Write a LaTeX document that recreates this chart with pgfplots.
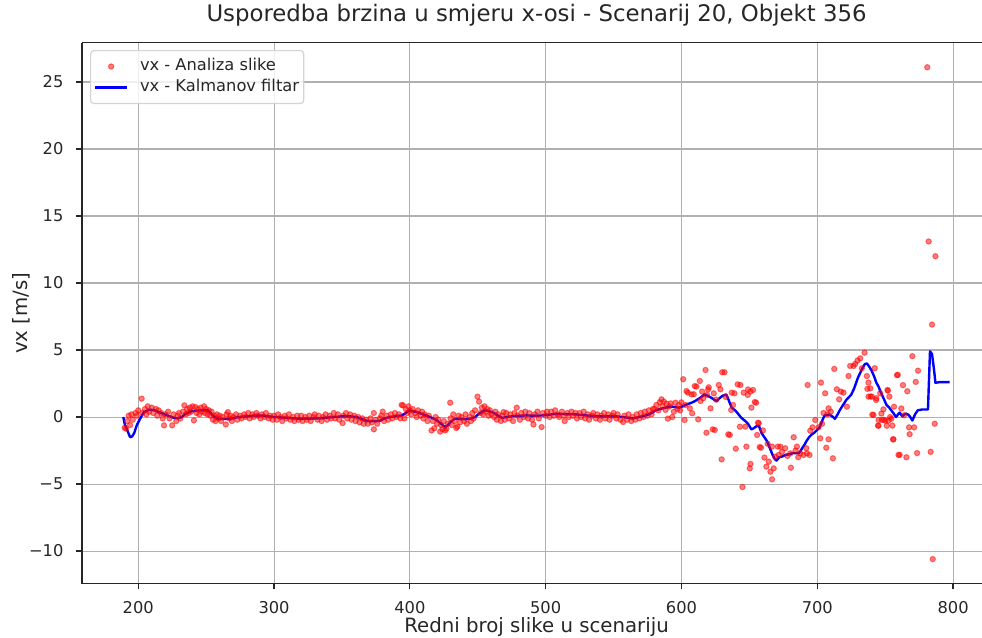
\documentclass[border=0pt]{standalone}
\usepackage{fontspec}
\setmainfont{DejaVu Sans}
\usepackage{pgfplots}
\pgfplotsset{compat=1.18}
\definecolor{gridgray}{HTML}{B0B0B0}
\definecolor{kfblue}{HTML}{0000FF}
\definecolor{legborder}{HTML}{D3D3D3}
\pgfplotsset{
  dotlegend/.style={legend image code/.code={\draw[##1] plot coordinates {(12pt,0pt)}; \path (0pt,0pt) (24pt,0pt);}},
  linelegend/.style={legend image code/.code={\draw[##1] (0pt,0pt) -- (24pt,0pt);}},
}
\begin{document}
\begin{tikzpicture}
\begin{axis}[
  name=ax, at={(0,0)}, anchor=south west,
  scale only axis, width=675pt, height=405.75pt,
  xmin=158.6, xmax=821.3, ymin=-12.43, ymax=27.94,
  axis x line*=bottom, axis y line*=left,
  axis line style={-, line width=0.95pt, black!85},
  xtick={200,300,400,500,600,700,800},
  xticklabels={200,300,400,500,600,700,800},
  ytick={-10,-5,0,5,10,15,20,25},
  yticklabels={−10,−5,0,5,10,15,20,25},
  grid=major, grid style={color=gridgray, line width=0.8pt},
  tick align=outside, major tick length=4.25pt,
  tick style={black!85, line width=0.95pt},
  ticklabel style={font=\fontsize{12.2}{14}\selectfont, text=black!85},
  xticklabel style={anchor=base, inner sep=0pt, yshift=-18.3pt},
  yticklabel style={anchor=east, inner sep=0pt, xshift=-9.5pt},
  /pgf/number format/assume math mode=true,
  title={Usporedba brzina u smjeru x-osi - Scenarij 20, Objekt 356},
  title style={font=\fontsize{17.1}{20}\selectfont, text=black!85, at={(0.5,1)}, anchor=base, yshift=9.45pt, xshift=3.4pt, inner sep=0pt},
  xlabel={Redni broj slike u scenariju},
  xlabel style={font=\fontsize{14.8}{17}\selectfont, text=black!85, at={(0.5,0)}, anchor=base, yshift=-36.75pt, xshift=3.4pt, inner sep=0pt},
  ylabel={vx [m/s]},
  ylabel style={font=\fontsize{14.8}{17}\selectfont, text=black!85, at={(axis description cs:-0.0611,0.5)}, anchor=base, inner sep=0pt},
  legend cell align=left,
  legend style={at={(axis description cs:0.0089,0.9863)}, anchor=north west,
    draw=legborder, line width=0.9pt, rounded corners=2.5pt, fill=white, fill opacity=0.8, draw opacity=1, text opacity=1,
    font=\fontsize{12.2}{14}\selectfont, row sep=2.3pt, column sep=7.75pt,
    inner xsep=2.5pt, inner ysep=5.2pt,
    nodes={inner sep=1pt, text height=9pt, text depth=2.5pt, text=black!85}},
]
\addplot[only marks, mark=*, mark size=2.0pt,
  mark options={fill=red, draw=red, fill opacity=0.5, draw opacity=0.5, line width=0.75pt},
  dotlegend]
table[row sep=\\] {
x y\\
190 -0.8\\ 191 -0.87\\ 192 -0.3\\ 193 0.1\\ 194 -0.6\\ 195 0.2\\ 196 -0.2\\ 198 0.3\\ 199 0.1\\ 200 0.5\\
202.5 1.37\\ 203 0.3\\ 205 0.6\\ 206 0.2\\ 207 0.8\\ 208 0.4\\ 210 0.7\\ 211 0.3\\ 213 0.6\\ 214 0.1\\
215 0.5\\ 217 0.3\\ 218 -0.1\\ 219 -0.62\\ 220 0.2\\ 222 0.4\\ 223 -0.1\\ 225 -0.62\\ 226 0.2\\ 228 -0.3\\
229 0.1\\ 230 0.3\\ 231 -0.1\\ 233 0.4\\ 234 0.87\\ 235 0.2\\ 236 0.6\\ 237 0.3\\ 238 0.7\\ 239 0.4\\
240 0.8\\ 241 -0.25\\ 242 0.75\\ 243 0.3\\ 244 0.6\\ 245 0.2\\ 246 0.7\\ 247 0.4\\ 248.5 0.8\\ 249 0.3\\
250 0.6\\ 251 0.2\\ 252 0.5\\ 253 0.1\\ 254 0.4\\ 255 -0.2\\ 256 0.1\\ 257 -0.3\\ 258 0.2\\ 259 -0.1\\
260 0.1\\ 261 -0.3\\ 262 0.0\\ 264.5 -0.55\\ 265 0.2\\ 266 0.37\\ 267 -0.1\\ 268 0.1\\ 269 -0.3\\ 270 0.0\\
272 0.2\\ 273 -0.2\\ 275 0.1\\ 276 -0.1\\ 278 0.2\\ 279 0.0\\ 281 0.3\\ 282 -0.1\\ 284 0.2\\ 285 0.0\\
287 0.3\\ 288 0.1\\ 290 -0.1\\ 291 0.2\\ 293 0.0\\ 294 0.3\\ 296 -0.1\\ 297 0.1\\ 299 -0.2\\ 300 0.1\\
302 -0.2\\ 303 0.2\\ 305 0.0\\ 306 -0.3\\ 308 0.1\\ 309 -0.1\\ 311 0.2\\ 312 -0.2\\ 314 0.0\\ 315 -0.3\\
317 0.1\\ 318 -0.2\\ 320 0.1\\ 321 -0.3\\ 323 0.0\\ 324 -0.2\\ 326 0.1\\ 327 -0.3\\ 329 0.0\\ 330 0.2\\
332 -0.2\\ 333 0.1\\ 335 -0.3\\ 336 0.0\\ 338 0.2\\ 339 -0.2\\ 341 0.1\\ 342 -0.1\\ 344 0.3\\ 345 -0.1\\
347 0.2\\ 348 -0.2\\ 350.5 -0.45\\ 351 0.1\\ 353 0.3\\ 354 -0.1\\ 356 0.2\\ 357 -0.2\\ 359 0.1\\ 360 -0.3\\
362 0.0\\ 363 -0.4\\ 365 -0.1\\ 366 -0.5\\ 368 -0.2\\ 369 -0.5\\ 371 -0.1\\ 372 -0.4\\ 373.5 -0.92\\ 373.5 0.3\\
375 -0.2\\ 376 -0.5\\ 378 -0.1\\ 379 0.1\\ 380 0.4\\ 381 -0.3\\ 383 0.1\\ 384 -0.2\\ 386 0.2\\ 387 -0.1\\
389 0.3\\ 390 0.0\\ 392 0.2\\ 393 -0.1\\ 394 0.9\\ 395 0.87\\ 396 -0.1\\ 397 0.6\\ 398 0.3\\ 399 0.8\\
400 0.5\\ 401 0.2\\ 402 0.6\\ 404 0.3\\ 405 0.0\\ 406 0.5\\ 408 0.1\\ 409 0.4\\ 410 -0.1\\ 411 0.2\\
413 -0.3\\ 414 0.1\\ 416 -1.0\\ 417 -0.3\\ 418 -0.84\\ 419 0.0\\ 420 -0.5\\ 421 -0.2\\ 422.3 -1.09\\ 423 -0.6\\
424 -0.9\\ 425 -0.3\\ 426 -1.0\\ 427 -0.87\\ 428 -0.5\\ 429.7 1.07\\ 430 -0.1\\ 431 -0.6\\ 432 0.2\\ 433 -0.3\\
434.2 -0.82\\ 435 -0.72\\ 436 0.1\\ 437 -0.4\\ 438 0.0\\ 440 -0.3\\ 441 0.2\\ 442 -0.5\\ 444 0.0\\ 445 -0.3\\
446 0.3\\ 447 -0.1\\ 448 0.5\\ 449.8 1.52\\ 451 1.15\\ 452 0.3\\ 453 0.7\\ 454 0.2\\ 455 0.8\\ 456 0.4\\
457 0.6\\ 458 0.1\\ 459 0.5\\ 460 0.2\\ 462 0.0\\ 463 0.4\\ 464 -0.2\\ 465 0.2\\ 467 -0.3\\ 468 0.1\\
469 0.37\\ 470 -0.2\\ 471 0.3\\ 473 -0.1\\ 474 0.2\\ 476 -0.3\\ 477 0.3\\ 478.7 0.7\\ 479 0.1\\ 481 -0.2\\
482 0.3\\ 484 0.0\\ 485 0.4\\ 487 -0.1\\ 488 0.3\\ 490 -0.2\\ 491 -0.55\\ 492 0.2\\ 494 0.4\\ 495 -0.1\\
497 -0.75\\ 498 0.3\\ 500 0.1\\ 501 0.4\\ 503 0.0\\ 504 0.4\\ 506 0.1\\ 507 0.5\\ 509 0.2\\ 510 0.0\\
512 0.4\\ 513 0.1\\ 514 -0.3\\ 516 0.3\\ 517 0.0\\ 519 0.4\\ 520 0.1\\ 522 0.3\\ 523 -0.1\\ 525 0.3\\
526 0.0\\ 528 0.4\\ 529 -0.1\\ 531 0.2\\ 532 -0.2\\ 534 0.1\\ 535 0.3\\ 537 -0.1\\ 538 0.2\\ 540 -0.2\\
541 0.1\\ 543 0.3\\ 544 -0.1\\ 546 0.2\\ 547 -0.2\\ 549 0.1\\ 550 0.3\\ 552 -0.1\\ 553 0.2\\ 555 -0.2\\
557 -0.37\\ 558 0.1\\ 560 -0.2\\ 561 0.2\\ 563 -0.3\\ 564 0.0\\ 566 -0.2\\ 567 0.2\\ 569 -0.1\\ 570 0.3\\
572 0.0\\ 573 0.4\\ 575 0.1\\ 576 0.5\\ 578 0.2\\ 579 0.6\\
580 0.6\\ 581.5 0.9\\ 583 0.5\\ 584 1.1\\ 585.3 1.32\\ 586 0.8\\ 587 1.15\\ 588.3 0.53\\ 589 1.0\\ 590 -0.12\\
591 0.8\\ 592 1.02\\ 593.2 0.0\\ 594.4 0.4\\ 595.6 1.07\\ 597 0.6\\ 598 0.9\\ 599 0.5\\ 600 1.1\\ 601.3 2.82\\
602.3 -0.22\\ 603 0.9\\ 603.7 1.94\\ 604.7 1.82\\ 606.2 0.65\\ 607.4 1.69\\ 607.9 0.28\\ 609.1 1.7\\ 609.8 2.31\\ 611 2.27\\
612.3 -0.17\\ 613.5 2.69\\ 614 1.2\\ 615.2 1.9\\ 616 1.4\\ 617.7 3.51\\ 618.4 -1.17\\ 618.9 1.65\\ 619.6 2.06\\ 620.1 2.22\\
621.4 0.65\\ 623 -0.92\\ 623.8 1.77\\ 624.5 -0.97\\ 625.5 1.3\\ 627.5 2.39\\ 628.7 2.07\\ 629.6 -3.16\\ 630 3.34\\ 631.7 3.34\\
632.5 1.5\\ 634.5 -1.29\\ 635.6 -1.34\\ 636.6 0.53\\ 637 1.82\\ 638 0.9\\ 639 1.77\\ 640 -2.36\\ 641.4 2.44\\ 643 -0.72\\
643.4 2.39\\ 644.9 -5.22\\ 645.8 1.82\\ 647 -0.72\\ 647.8 -2.21\\ 648.8 1.65\\ 649 2.06\\ 650.3 -3.83\\ 650.8 -3.5\\ 650.8 1.9\\
651.5 0.7\\ 652.7 2.02\\ 654 1.12\\ 655 1.07\\ 655.7 -1.34\\ 656.4 -0.42\\ 656.9 -0.47\\ 657.6 -2.24\\ 658.6 -2.29\\ 660 -1.0\\
661.1 -3.03\\ 662.5 -3.7\\ 663.5 -2.0\\ 664.3 -3.33\\ 665.5 -4.08\\ 666.6 -2.21\\ 666.7 -4.65\\ 667.9 -3.83\\ 669.1 -2.96\\ 670.9 -2.21\\
671.5 -2.83\\ 672.8 -2.21\\ 674 -2.6\\ 676.4 -2.33\\ 678 -2.9\\ 680.1 -2.71\\ 680.6 -3.78\\ 682.6 -1.51\\ 684 -2.5\\ 685 -2.21\\
686 -3.0\\ 687.5 -2.71\\ 689.9 -2.83\\ 691.9 -2.33\\ 692.4 -2.71\\ 692.9 2.39\\ 694.3 -2.83\\ 694.8 -1.02\\ 696.5 -0.77\\ 698.5 -0.22\\
700.9 -0.77\\ 702.2 -1.59\\ 702.7 2.57\\ 703.5 -0.5\\ 704.6 0.3\\ 705.8 1.77\\ 706.6 -2.29\\ 707.5 0.2\\ 708.3 0.65\\ 708.3 -1.66\\
710 0.4\\ 711.5 -3.08\\ 712.5 3.59\\ 714.4 2.07\\ 716.1 1.32\\ 717.4 1.9\\ 719.3 1.82\\ 721.8 0.77\\ 723 3.06\\ 724.2 3.81\\
726.7 3.81\\ 727.9 3.96\\ 729.6 4.21\\ 731.6 4.38\\ 732.8 3.64\\ 734.8 4.8\\ 736.5 3.06\\ 736.9 2.1\\ 737.7 2.57\\ 737.7 1.52\\
739 2.14\\ 739.2 1.54\\ 740.2 1.52\\ 740.5 0.18\\ 741.4 0.15\\ 742.3 3.64\\ 743.3 1.27\\ 743.5 1.41\\ 744.7 -0.64\\ 745.1 -0.22\\
745.1 -0.65\\ 746.3 1.77\\ 747.2 0.26\\ 747.5 -0.22\\ 748.7 0.57\\ 749 -0.2\\ 750 -0.27\\ 751.2 -0.65\\ 751.7 2.02\\ 752 1.97\\
752.4 -0.27\\ 753.1 1.52\\ 753.6 0.0\\ 754.5 -0.13\\ 755.3 -0.64\\ 755.8 -1.67\\ 756.1 -1.66\\ 756.5 0.77\\ 758.7 3.13\\ 759.3 3.14\\
759.8 -2.83\\ 760.7 -2.82\\ 761.9 0.64\\ 763.1 2.38\\ 763.9 0.13\\ 765.6 -3.0\\ 766.3 1.92\\ 767.6 -0.77\\ 768 -1.28\\ 770 4.54\\
771.3 -0.77\\ 772.5 2.62\\ 773.5 -2.69\\ 774.2 3.46\\ 781 26.1\\ 782 13.1\\ 783.5 -2.6\\ 784.5 6.9\\ 785 -10.6\\ 786.5 -0.5\\
787 12.0\\
};
\addlegendentry{vx - Analiza slike}
\addplot[kfblue, line width=1.8pt, line join=round, linelegend]
table[row sep=\\] {
x y\\
189 0.0\\ 190 -0.5\\ 192 -1.0\\ 194 -1.5\\ 195.5 -1.45\\ 197 -1.2\\ 199 -0.6\\ 201 -0.2\\ 204 0.35\\ 207 0.5\\
209 0.55\\ 212 0.5\\ 215 0.37\\ 218 0.25\\ 222 0.1\\ 226 -0.05\\ 229 -0.1\\ 232 0.0\\ 235 0.25\\ 239 0.42\\
243 0.48\\ 247 0.5\\ 251 0.5\\ 253 0.35\\ 255 0.1\\ 258 -0.12\\ 263 -0.15\\ 268 -0.12\\ 274 0.0\\ 280 0.05\\
286 0.1\\ 292 0.1\\ 300 0.0\\ 308 -0.05\\ 317 -0.12\\ 325 -0.12\\ 332 -0.1\\ 338 -0.05\\ 344 0.0\\ 350 0.05\\
356 0.05\\ 361 0.0\\ 364 -0.12\\ 367 -0.25\\ 371 -0.32\\ 375 -0.3\\ 378 -0.28\\ 381 -0.12\\ 385 0.0\\ 389 0.05\\
394 0.12\\ 397 0.3\\ 400 0.5\\ 403 0.42\\ 407 0.3\\ 412 0.12\\ 416 -0.05\\ 420 -0.25\\ 423 -0.5\\ 426 -0.75\\
428 -0.6\\ 430 -0.37\\ 433 -0.12\\ 437 -0.15\\ 441 -0.17\\ 445 -0.12\\ 448 0.0\\ 451 0.25\\ 455 0.5\\ 458 0.45\\
462 0.3\\ 465 0.1\\ 468 -0.07\\ 472 0.02\\ 478 0.08\\ 486 0.12\\ 492 0.1\\ 498 0.12\\ 503 0.18\\ 508 0.25\\
514 0.22\\ 522 0.2\\ 530 0.12\\ 537 0.05\\ 545 0.05\\ 552 0.05\\ 558 -0.02\\ 564 -0.1\\ 569 0.0\\ 574 0.12\\
578 0.3\\ 581 0.5\\ 585 0.62\\ 589 0.72\\ 593 0.78\\ 598 0.7\\ 601 0.8\\ 604 0.95\\ 607 1.05\\ 610 1.19\\
614 1.45\\ 617 1.69\\ 620 1.55\\ 622 1.44\\ 624 1.3\\ 626 1.19\\ 628 1.4\\ 630 1.57\\ 633 1.69\\ 635 1.2\\
637 0.7\\ 640 0.45\\ 642 0.2\\ 644 -0.05\\ 647 -0.3\\ 649 -0.5\\ 651.5 -0.92\\ 653 -0.85\\ 655 -0.7\\ 657 -0.65\\
659 -1.2\\ 661 -1.5\\ 663 -1.8\\ 665 -2.3\\ 667 -2.8\\ 668.5 -3.1\\ 670 -3.25\\ 672 -3.0\\ 674 -2.95\\ 676 -2.85\\
678 -2.8\\ 680 -2.75\\ 682 -2.7\\ 685 -2.7\\ 687 -2.65\\ 689 -2.3\\ 690.7 -2.05\\ 692 -1.8\\ 694 -1.5\\ 696 -1.3\\
698 -1.15\\ 700 -0.95\\ 701.7 -0.77\\ 703.5 -0.3\\ 705.4 0.13\\ 707 0.15\\ 709 0.18\\ 711 0.05\\ 713 -0.13\\ 715 0.2\\
716.5 0.5\\ 719 0.9\\ 721.4 1.28\\ 723 1.45\\ 725 1.67\\ 727 2.1\\ 730 2.95\\ 733 3.6\\ 735 3.95\\ 736.5 4.0\\
738 3.8\\ 740 3.46\\ 742 3.0\\ 743.5 2.56\\ 745 2.3\\ 747 1.8\\ 749 1.35\\ 751 0.9\\ 753 0.7\\ 754.5 0.5\\
756 0.3\\ 758 0.0\\ 759.5 0.2\\ 760.7 0.33\\ 762.6 0.05\\ 765 0.26\\ 767 0.18\\ 768.5 0.0\\ 770 -0.26\\ 772 0.2\\
774 0.5\\ 777 0.56\\ 781.5 0.56\\ 783 4.9\\ 784.5 4.7\\ 786 3.5\\ 787 2.56\\ 790 2.6\\ 797.5 2.6\\
};
\addlegendentry{vx - Kalmanov filtar}
\end{axis}
\draw[line width=0.95pt, black!85] (ax.north west) -- (ax.north east);
\pgfresetboundingbox
\path[use as bounding box] ([shift={(-61.5pt,-40.1pt)}]ax.south west) rectangle ([shift={(0pt,31.95pt)}]ax.north east);
\end{tikzpicture}
\end{document}
